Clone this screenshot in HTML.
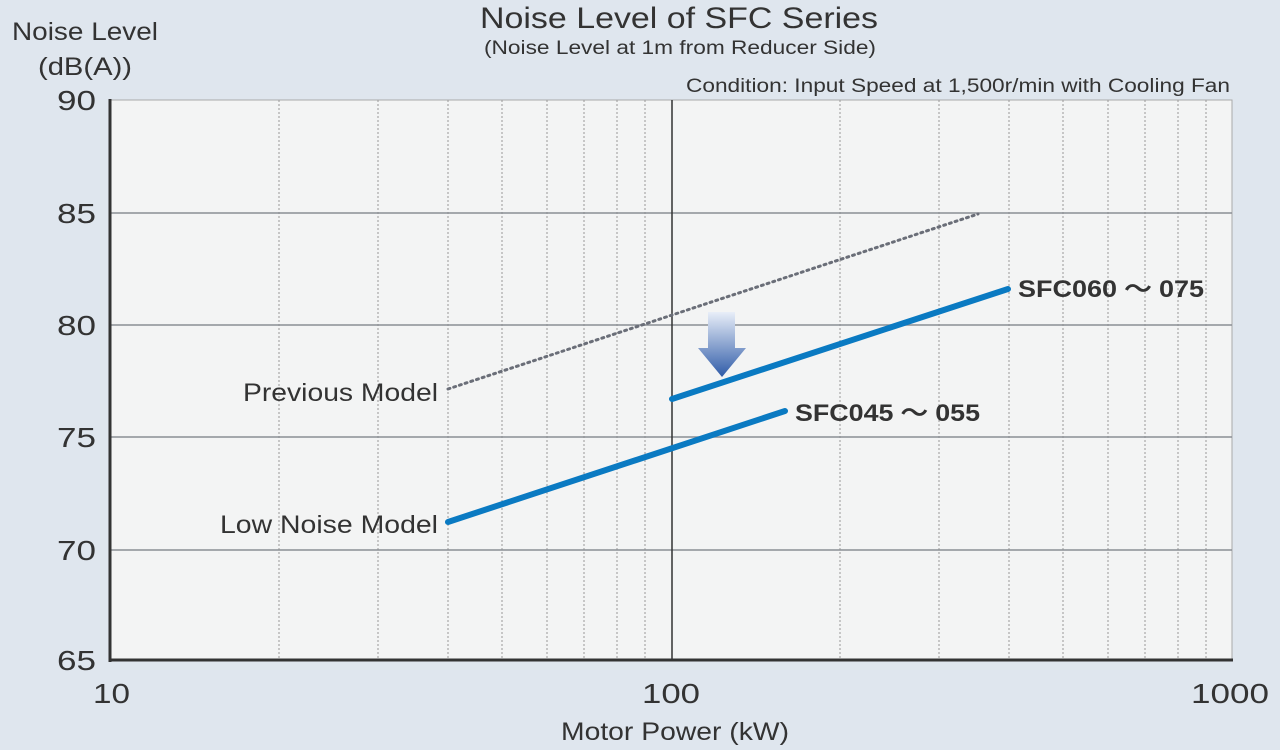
<!DOCTYPE html>
<html><head><style>
body{margin:0;background:#dfe6ee;}
svg{display:block;font-family:"Liberation Sans",sans-serif;}
</style></head><body>
<svg width="1280" height="750" viewBox="0 0 1280 750">
<defs><linearGradient id="g" x1="0" y1="0" x2="0" y2="1"><stop offset="0" stop-color="#e8eef8"/><stop offset="1" stop-color="#2f5ba8"/></linearGradient></defs>
<rect width="1280" height="750" fill="#dfe6ee"/>
<rect x="110" y="100" width="1122" height="560" fill="#f3f4f4" stroke="#aaa" stroke-width="1"/>
<g stroke="#999" stroke-width="1" stroke-dasharray="2,2">
<line x1="279" y1="100" x2="279" y2="660"/><line x1="378" y1="100" x2="378" y2="660"/><line x1="448" y1="100" x2="448" y2="660"/><line x1="502" y1="100" x2="502" y2="660"/><line x1="547" y1="100" x2="547" y2="660"/><line x1="584" y1="100" x2="584" y2="660"/><line x1="617" y1="100" x2="617" y2="660"/><line x1="645" y1="100" x2="645" y2="660"/>
<line x1="840" y1="100" x2="840" y2="660"/><line x1="939" y1="100" x2="939" y2="660"/><line x1="1009" y1="100" x2="1009" y2="660"/><line x1="1063" y1="100" x2="1063" y2="660"/><line x1="1108" y1="100" x2="1108" y2="660"/><line x1="1145" y1="100" x2="1145" y2="660"/><line x1="1178" y1="100" x2="1178" y2="660"/><line x1="1206" y1="100" x2="1206" y2="660"/>
</g>
<g stroke="#8a8e94" stroke-width="1.5">
<line x1="110" y1="213" x2="1232" y2="213"/><line x1="110" y1="325" x2="1232" y2="325"/><line x1="110" y1="437" x2="1232" y2="437"/><line x1="110" y1="550" x2="1232" y2="550"/>
</g>
<line x1="672" y1="100" x2="672" y2="660" stroke="#333" stroke-width="1.5"/>
<line x1="110" y1="99" x2="110" y2="662" stroke="#333" stroke-width="3"/>
<line x1="109" y1="660" x2="1233" y2="660" stroke="#333" stroke-width="3"/>
<line x1="448" y1="389" x2="978" y2="214" stroke="#6a6e78" stroke-width="3" stroke-dasharray="2,4" stroke-linecap="round"/>
<g stroke="#0a7ac2" stroke-width="6" stroke-linecap="round">
<line x1="448" y1="522" x2="785" y2="411"/><line x1="672" y1="399" x2="1008" y2="289"/>
</g>
<polygon points="708,312 735,312 735,348 746,348 722,377 698,348 708,348" fill="url(#g)"/>
<g fill="#333" font-size="25" lengthAdjust="spacingAndGlyphs">
<text x="480" y="28" font-size="30" textLength="398" lengthAdjust="spacingAndGlyphs">Noise Level of SFC Series</text>
<text x="484" y="54" font-size="19" textLength="392" lengthAdjust="spacingAndGlyphs">(Noise Level at 1m from Reducer Side)</text>
<text x="686" y="92" font-size="19" textLength="544" lengthAdjust="spacingAndGlyphs">Condition: Input Speed at 1,500r/min with Cooling Fan</text>
<text x="12" y="40" textLength="146" lengthAdjust="spacingAndGlyphs">Noise Level</text>
<text x="38" y="75" textLength="94" lengthAdjust="spacingAndGlyphs">(dB(A))</text>
<g font-size="28"><text x="57" y="110" textLength="39" lengthAdjust="spacingAndGlyphs">90</text><text x="57" y="223" textLength="39" lengthAdjust="spacingAndGlyphs">85</text><text x="57" y="335" textLength="39" lengthAdjust="spacingAndGlyphs">80</text><text x="57" y="447" textLength="39" lengthAdjust="spacingAndGlyphs">75</text><text x="57" y="560" textLength="39" lengthAdjust="spacingAndGlyphs">70</text><text x="57" y="670" textLength="39" lengthAdjust="spacingAndGlyphs">65</text></g>
<g font-size="28"><text x="93" y="703" textLength="37" lengthAdjust="spacingAndGlyphs">10</text><text x="642" y="703" textLength="58" lengthAdjust="spacingAndGlyphs">100</text><text x="1191" y="703" textLength="78" lengthAdjust="spacingAndGlyphs">1000</text></g>
<text x="561" y="740" textLength="228" lengthAdjust="spacingAndGlyphs">Motor Power (kW)</text>
<text x="243" y="401" textLength="195" lengthAdjust="spacingAndGlyphs">Previous Model</text>
<text x="220" y="533" textLength="218" lengthAdjust="spacingAndGlyphs">Low Noise Model</text>
<text x="795" y="421" font-weight="bold" font-size="24" textLength="185" lengthAdjust="spacingAndGlyphs">SFC045 ～ 055</text>
<text x="1018" y="297" font-weight="bold" font-size="24" textLength="186" lengthAdjust="spacingAndGlyphs">SFC060 ～ 075</text>
</g>
</svg>
</body></html>
